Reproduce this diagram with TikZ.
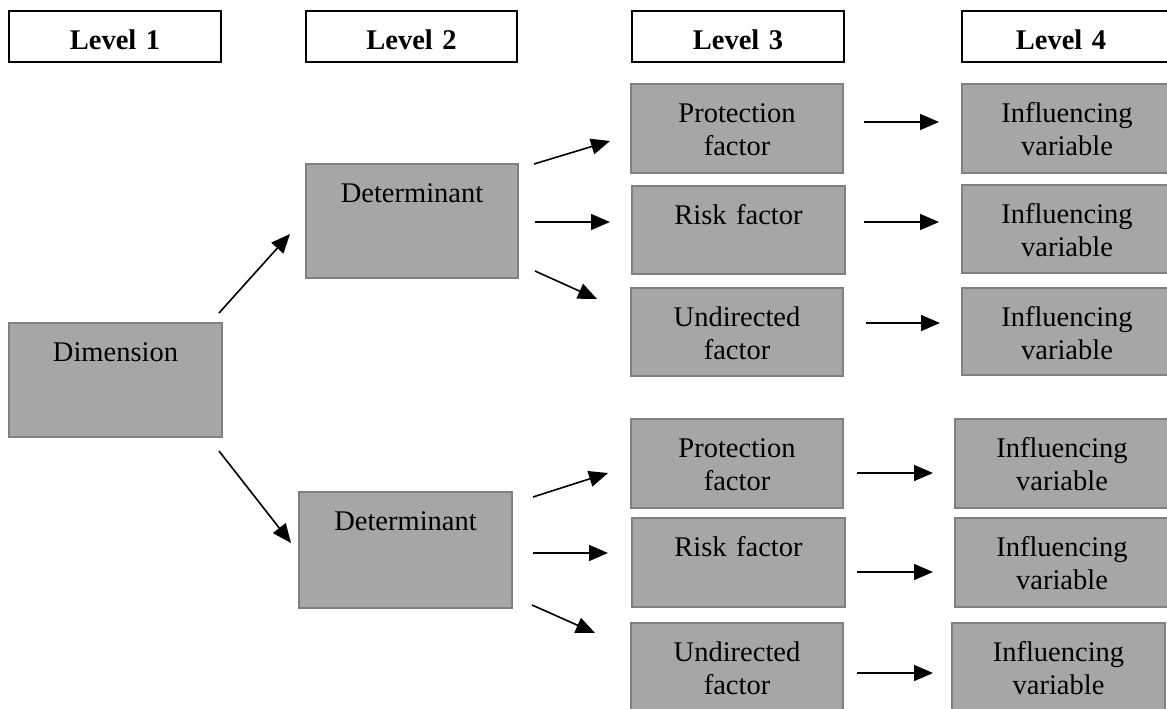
\documentclass[tikz,border=0pt]{standalone}
\usepackage{fontspec}
\setmainfont{Liberation Serif}
\usetikzlibrary{arrows.meta,calc}
\definecolor{boxfill}{HTML}{A6A6A6}
\definecolor{boxline}{HTML}{808080}
\tikzset{
  graybox/.style={draw=boxline, line width=2pt, fill=boxfill, rectangle, inner sep=0pt, outer sep=0pt},
  headbox/.style={draw=black, line width=1.6pt, fill=white, rectangle, inner sep=0pt, outer sep=0pt},
  lbl/.style={anchor=base, text width=230pt, align=center, inner sep=0pt, font=\fontsize{28.5}{33}\selectfont},
  hlbl/.style={lbl, font=\fontsize{28.5}{33}\selectfont\bfseries},
  arr/.style={line width=1.6pt, -{Triangle[length=19pt,width=16pt]}},
}
% name, x1, y1, x2, y2, box style, label style, text
\newcommand\mkbox[8]{%
  \node[#6, minimum width={#4-#2}, minimum height={#5-#3}, anchor=north west] (#1) at (#2,#3) {};
  \node[#7] (#1t) at ($(#1.north)+(0,38.5)$) {#8};}
\begin{document}
\begin{tikzpicture}[x=1pt,y=-1pt]
\clip (0,0) rectangle (1167,709);
\fill[white] (0,0) rectangle (1167,709);
% headers
\mkbox{h1}{9}{11}{221}{62}{headbox}{hlbl}{Level 1}
\mkbox{h2}{306}{11}{517}{62}{headbox}{hlbl}{Level 2}
\mkbox{h3}{632}{11}{844}{62}{headbox}{hlbl}{Level 3}
\node[headbox, minimum width=210, minimum height=51, anchor=north west] (h4) at (962,11) {};
\node[hlbl] (h4t) at ($(h4.north)+(-6,38.5)$) {Level 4};
% level 1 and 2
\mkbox{dim}{9}{323}{222}{437}{graybox}{lbl}{Dimension}
\mkbox{det1}{306}{164}{518}{278}{graybox}{lbl}{Determinant}
\mkbox{det2}{299}{492}{512}{608}{graybox}{lbl}{Determinant}
% level 3 top
\mkbox{p1}{631}{84}{843}{173}{graybox}{lbl}{Protection\\factor}
\mkbox{r1}{632}{186}{845}{274}{graybox}{lbl}{Risk factor}
\mkbox{u1}{631}{288}{843}{376}{graybox}{lbl}{Undirected\\factor}
% level 4 top
\mkbox{v1}{962}{84}{1172}{173}{graybox}{lbl}{Influencing\\variable}
\mkbox{v2}{962}{185}{1172}{273}{graybox}{lbl}{Influencing\\variable}
\mkbox{v3}{962}{288}{1172}{375}{graybox}{lbl}{Influencing\\variable}
% level 3 bottom
\mkbox{p2}{631}{419}{843}{508}{graybox}{lbl}{Protection\\factor}
\mkbox{r2}{632}{518}{845}{607}{graybox}{lbl}{Risk factor}
\mkbox{u2}{631}{623}{843}{720}{graybox}{lbl}{Undirected\\factor}
% level 4 bottom
\mkbox{w1}{955}{419}{1169}{508}{graybox}{lbl}{Influencing\\variable}
\mkbox{w2}{955}{518}{1169}{607}{graybox}{lbl}{Influencing\\variable}
\mkbox{w3}{952}{623}{1165}{720}{graybox}{lbl}{Influencing\\variable}
% arrows level 1 -> 2
\draw[arr] ($(dim.north east)+(-3,-10)$) -- ($(det1.west)+(-16,13)$);
\draw[arr] ($(dim.south east)+(-3,14)$) -- ($(det2.west)+(-8,-7)$);
% arrows level 2 -> 3 (top)
\draw[arr] ($(det1.north east)+(16,0)$) -- ($(p1.west)+(-21,12.5)$);
\draw[arr] ($(det1.east)+(17,1)$) -- ($(r1.west)+(-22,-8)$);
\draw[arr] ($(det1.south east)+(17,-7)$) -- ($(u1.west)+(-34,-33)$);
% arrows level 2 -> 3 (bottom)
\draw[arr] ($(det2.north east)+(21,5)$) -- ($(p2.west)+(-23,9.5)$);
\draw[arr] ($(det2.east)+(21,3)$) -- ($(r2.west)+(-24,-9.5)$);
\draw[arr] ($(det2.south east)+(20,-3)$) -- ($(u2.north west)+(-36,10)$);
% arrows level 3 -> 4
\draw[arr] ($(p1.east)+(21,-6.5)$) -- ($(v1.west)+(-23,-6.5)$);
\draw[arr] ($(r1.east)+(19,-8)$) -- ($(v2.west)+(-23,-7)$);
\draw[arr] ($(u1.east)+(23,-9)$) -- ($(v3.west)+(-22,-8.5)$);
\draw[arr] ($(p2.east)+(14,9.5)$) -- ($(w1.west)+(-22,9.5)$);
\draw[arr] ($(r2.east)+(12,9.5)$) -- ($(w2.west)+(-22,9.5)$);
\draw[arr] ($(u2.east)+(14,1.5)$) -- ($(w3.west)+(-19,1.5)$);
\end{tikzpicture}
\end{document}
